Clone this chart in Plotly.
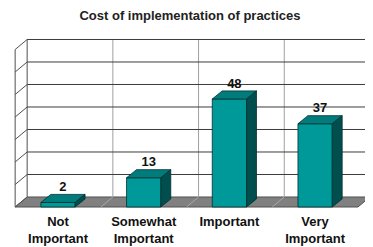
import plotly.graph_objects as go

# ---- data ----
categories = ["Not<br>Important", "Somewhat<br>Important", "Important", "Very<br>Important"]
values = [2, 13, 48, 37]
grid_values = [0, 10, 20, 30, 40, 50, 60, 70]
title_text = "Cost of implementation of practices"

# ---- style ----
FONT = "Liberation Sans, Arial, sans-serif"
FRONT = "#009999"
TOP = "#007c7c"
SIDE = "#004e4e"
EDGE = "#003030"
BAR_W = 0.4
BAR_DX = 0.116
BAR_DY = 3.6
WALL_DX = 0.14
WALL_DY = 4.45

x = list(range(len(categories)))
n = len(categories)
x_left = -0.5
x_right = n - 0.5
gmax = max(grid_values)

fig = go.Figure()

# front faces of bars
fig.add_trace(go.Bar(
    x=x, y=values, width=BAR_W,
    marker=dict(color=FRONT, line=dict(color=EDGE, width=0.8)),
    hoverinfo="skip",
))

# top and side faces
for xi, v in zip(x, values):
    l = xi - BAR_W / 2
    r = xi + BAR_W / 2
    fig.add_trace(go.Scatter(
        x=[l, r, r + BAR_DX, l + BAR_DX, l],
        y=[v, v, v + BAR_DY, v + BAR_DY, v],
        fill="toself", fillcolor=TOP, mode="lines",
        line=dict(color=EDGE, width=0.8), hoverinfo="skip",
    ))
    fig.add_trace(go.Scatter(
        x=[r, r + BAR_DX, r + BAR_DX, r, r],
        y=[0, BAR_DY, v + BAR_DY, v, 0],
        fill="toself", fillcolor=SIDE, mode="lines",
        line=dict(color=EDGE, width=0.8), hoverinfo="skip",
    ))

# value labels
fig.add_trace(go.Scatter(
    x=[xi + BAR_DX / 2 for xi in x],
    y=[v + BAR_DY for v in values],
    text=[str(v) for v in values],
    mode="text", textposition="top center",
    textfont=dict(family=FONT, size=13, color="#111111", weight="bold"),
    hoverinfo="skip",
))

shapes = []
# floor
shapes.append(dict(
    type="path", xref="x", yref="y", layer="below",
    path=f"M {x_left},0 L {x_right},0 L {x_right + WALL_DX},{WALL_DY} L {x_left + WALL_DX},{WALL_DY} Z",
    fillcolor="#808080", line=dict(color="#505050", width=1),
))
# floor separators
for k in range(1, n):
    shapes.append(dict(type="line", xref="x", yref="y", layer="below",
                       x0=k - 0.5, y0=0, x1=k - 0.5 + WALL_DX, y1=WALL_DY,
                       line=dict(color="#a8a8a8", width=1)))
# back wall vertical lines
for k in range(n + 1):
    shapes.append(dict(type="line", xref="x", yref="y", layer="below",
                       x0=x_left + k + WALL_DX, y0=WALL_DY,
                       x1=x_left + k + WALL_DX, y1=gmax + WALL_DY,
                       line=dict(color="#505050" if k == 0 else "#a0a0a0", width=1)))
# back wall horizontal lines
for g in grid_values[1:]:
    shapes.append(dict(type="line", xref="x", yref="y", layer="below",
                       x0=x_left + WALL_DX, y0=g + WALL_DY,
                       x1=x_right + WALL_DX, y1=g + WALL_DY,
                       line=dict(color="#3c3c3c", width=1)))
# left wall
shapes.append(dict(type="line", xref="x", yref="y", layer="below",
                   x0=x_left, y0=0, x1=x_left, y1=gmax,
                   line=dict(color="#505050", width=1)))
for g in grid_values:
    shapes.append(dict(type="line", xref="x", yref="y", layer="below",
                       x0=x_left, y0=g, x1=x_left + WALL_DX, y1=g + WALL_DY,
                       line=dict(color="#505050", width=1)))

# page has an 8px body margin, so the figure is 8px smaller than the window
fig.update_layout(
    width=365, height=239,
    margin=dict(l=0, r=0, t=22, b=38),
    paper_bgcolor="white", plot_bgcolor="white",
    showlegend=False,
    shapes=shapes,
    title=dict(text=title_text, x=0.4986, xanchor="center", y=0.97, yanchor="middle",
               font=dict(family=FONT, size=13, color="#222222", weight="bold")),
    xaxis=dict(range=[-0.5834, 3.6756], showgrid=False, zeroline=False, showline=False,
               tickvals=x, ticktext=categories, ticks="", ticklabelstandoff=3,
               tickfont=dict(family=FONT, size=13, color="#111111", weight="bold")),
    yaxis=dict(range=[-0.889, 78.67], visible=False, showgrid=False, zeroline=False),
)

fig.write_html("out.html")
